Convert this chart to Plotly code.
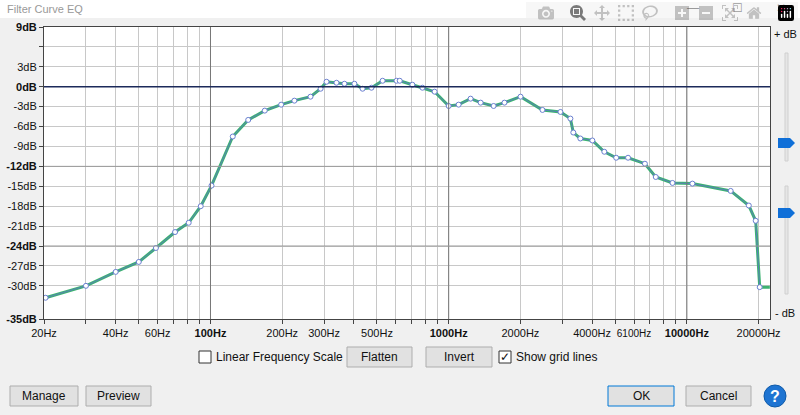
import plotly.graph_objects as go

# EQ control points
freq_hz = [20.3, 30, 40, 50, 59, 71, 81, 91, 101, 124, 144, 169, 198, 225, 263, 290, 307,
           338, 365, 402, 435, 474, 528, 604, 623, 704, 776, 873, 1000, 1101, 1236, 1362,
           1544, 1715, 2003, 2476, 2946, 3244, 3336, 3571, 4010, 4502, 5049, 5663, 6665,
           7402, 8703, 10550, 15270, 18200, 19450, 20220, 22300]
gain_db = [-31.8, -30, -27.9, -26.4, -24.3, -21.9, -20.5, -18, -14.9, -7.5, -5, -3.6, -2.7,
           -2.1, -1.5, -0.3, 0.75, 0.6, 0.45, 0.45, -0.3, -0.15, 0.9, 0.9, 0.9, 0.3, -0.15,
           -0.75, -2.9, -2.7, -1.8, -2.4, -2.9, -2.4, -1.5, -3.5, -3.8, -4.8, -6.9, -7.8,
           -8.1, -9.8, -10.7, -10.7, -11.6, -13.6, -14.5, -14.6, -15.7, -17.9, -20.2, -30.2,
           -30.2]

x_grid = [d * m for d in (10, 100, 1000, 10000) for m in range(1, 10) if 20 <= d * m <= 22000]
x_labels = {20: "20Hz", 40: "40Hz", 60: "60Hz", 100: "<b>100Hz</b>", 200: "200Hz",
            300: "300Hz", 500: "500Hz", 1000: "<b>1000Hz</b>", 2000: "2000Hz",
            4000: "4000Hz", 6000: "<span style='font-size:10px'>6100Hz</span>",
            10000: "<b>10000Hz</b>", 20000: "20000Hz"}
y_grid = [9, 6, 3, 0, -3, -6, -9, -12, -15, -18, -21, -24, -27, -30, -35]
y_labels = {9: "<b>9dB</b>", 6: "", 0: "<b>0dB</b>", -12: "<b>-12dB</b>",
            -24: "<b>-24dB</b>", -35: "<b>-35dB</b>"}

FONT = "Liberation Sans, Arial, sans-serif"
W, H = 800, 415
px = lambda x: x / W
py = lambda y: 1 - y / H

fig = go.Figure()
fig.add_trace(go.Scatter(x=freq_hz, y=gain_db, mode="lines",
                         line=dict(color="#3cb371", width=3), hoverinfo="skip"))
fig.add_trace(go.Scatter(x=freq_hz[:-1], y=gain_db[:-1], mode="lines+markers",
                         line=dict(color="#5a7fb8", width=1),
                         marker=dict(size=5, color="white", line=dict(color="#6a7fd0", width=1))))

shapes, ann = [], []
# darker major grid lines and 0 dB line
for f in (100, 1000, 10000):
    shapes.append(dict(type="line", xref="x", yref="paper", x0=f, x1=f,
                       y0=py(319), y1=py(27), line=dict(color="#777", width=1)))
for g in (-12, -24):
    shapes.append(dict(type="line", xref="paper", yref="y", x0=px(44), x1=px(770),
                       y0=g, y1=g, line=dict(color="#999", width=1)))
shapes.append(dict(type="line", xref="paper", yref="y", x0=px(44), x1=px(770),
                   y0=0, y1=0, line=dict(color="#1c2a5a", width=1.5)))
# title bar
shapes.append(dict(type="rect", xref="paper", yref="paper", x0=0, x1=1, y0=py(18), y1=1,
                   fillcolor="white", line_width=0, layer="below"))
ann.append(dict(text="Filter Curve EQ", x=px(5), y=py(9), xanchor="left", font=dict(color="#999", size=11)))
for xx, t in ((693, "—"), (737, "☐"), (781, "✕")):
    ann.append(dict(text=t, x=px(xx), y=py(8), font=dict(color="#444", size=12)))
# right side sliders
ann.append(dict(text="+ dB", x=px(785), y=py(34), font=dict(size=11)))
ann.append(dict(text="- dB", x=px(785), y=py(313), font=dict(size=11)))
for y0, y1, hy in ((53, 161, 143), (186, 294, 213)):
    shapes.append(dict(type="rect", xref="paper", yref="paper", x0=px(785), x1=px(788),
                       y0=py(y1), y1=py(y0), fillcolor="#e6e6e6", line=dict(color="#d0d0d0", width=1)))
    shapes.append(dict(type="path", xref="paper", yref="paper",
                       path=f"M {px(778)},{py(hy-5)} L {px(790)},{py(hy-5)} L {px(795)},{py(hy)} "
                            f"L {px(790)},{py(hy+5)} L {px(778)},{py(hy+5)} Z",
                       fillcolor="#0f6fd8", line_width=0))
# buttons
def button(x0, x1, y0, y1, label, border="#adadad"):
    shapes.append(dict(type="rect", xref="paper", yref="paper", x0=px(x0), x1=px(x1),
                       y0=py(y1), y1=py(y0), fillcolor="#e1e1e1", line=dict(color=border, width=1)))
    ann.append(dict(text=label, x=px((x0 + x1) / 2), y=py((y0 + y1) / 2), font=dict(size=12)))
button(347, 412, 347, 367, "Flatten")
button(426, 492, 347, 367, "Invert")
button(10, 78, 386, 406, "Manage")
button(86, 151, 386, 406, "Preview")
button(608, 674, 386, 406, "OK", border="#0078d7")
button(686, 751, 386, 406, "Cancel")
# checkboxes
for cx, label, checked in ((205, "Linear Frequency Scale", False), (505, "Show grid lines", True)):
    shapes.append(dict(type="rect", xref="paper", yref="paper", x0=px(cx - 6), x1=px(cx + 6),
                       y0=py(363), y1=py(351), fillcolor="white", line=dict(color="#333", width=1)))
    if checked:
        ann.append(dict(text="✓", x=px(cx), y=py(357), font=dict(size=12)))
    ann.append(dict(text=label, x=px(cx + 9), y=py(357), xanchor="left", font=dict(size=12)))
# help icon
shapes.append(dict(type="circle", xref="paper", yref="paper", x0=px(764), x1=px(786),
                   y0=py(407), y1=py(385), fillcolor="#1e74d2", line=dict(color="#0f5aa8", width=1)))
ann.append(dict(text="<b>?</b>", x=px(775), y=py(396), font=dict(size=16, color="white")))

for a in ann:
    a.update(xref="paper", yref="paper", showarrow=False, yanchor="middle")
    a.setdefault("xanchor", "center")
    a["font"].setdefault("color", "#111")
    a["font"]["family"] = FONT

fig.update_layout(
    width=W, height=H, margin=dict(l=0, r=0, t=0, b=0, pad=0), autosize=False,
    paper_bgcolor="#f0f0f0", plot_bgcolor="white", showlegend=False,
    font=dict(family=FONT, size=11, color="#111"),
    shapes=shapes, annotations=ann,
    xaxis=dict(type="log", range=[1.301, 4.349], domain=[px(44), px(770)], automargin=False,
               tickvals=x_grid, ticktext=[x_labels.get(v, "") for v in x_grid],
               gridcolor="#c8c8c8", showline=True, linecolor="#444", mirror=True,
               ticks="outside", ticklen=4, tickcolor="#444", zeroline=False,
               tickfont=dict(size=11)),
    yaxis=dict(range=[-35, 9], domain=[py(319), py(27)], automargin=False,
               tickvals=y_grid, ticktext=[y_labels.get(v, f"{v}dB") for v in y_grid],
               gridcolor="#c8c8c8", showline=True, linecolor="#444", mirror=True,
               ticks="outside", ticklen=4, tickcolor="#444", zeroline=False,
               tickfont=dict(size=11)),
)
fig.write_html("out.html", post_script="document.body.style.margin='0';")
